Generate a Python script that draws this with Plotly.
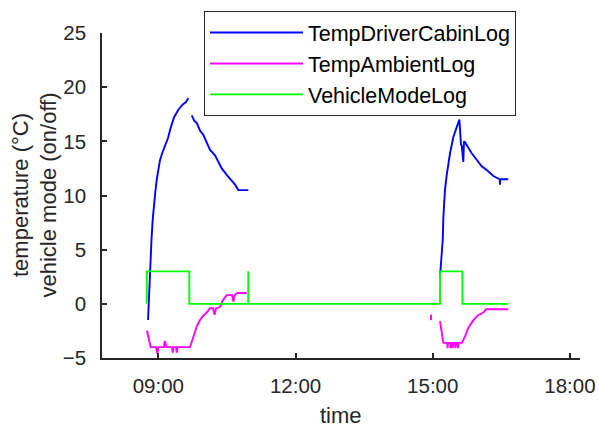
import plotly.graph_objects as go

DAY = "2017-03-01 "

# ---- data ----
cabin_time = [
    "08:46:30", "08:47:30", "08:48:30", "08:49:30", "08:51:00", "08:52:30", "08:54:00", "08:56:00",
    "08:58:00", "08:59:40", "09:02:00", "09:05:00", "09:08:00", "09:12:40", "09:16:00", "09:20:30",
    "09:26:00", "09:32:00", "09:36:00", "09:39:30",
    None,
    "09:43:50", "09:47:00", "09:50:20", "09:54:40", "09:59:00", "10:03:30", "10:07:50", "10:14:20",
    "10:18:40", "10:23:10", "10:29:40", "10:36:20", "10:40:40", "10:44:55", "10:58:05",
    None,
    "15:09:30", "15:12:00", "15:13:05", "15:13:55", "15:16:00", "15:18:20", "15:22:40", "15:27:00",
    "15:31:25", "15:34:55", "15:37:05", "15:38:00", "15:40:05", "15:41:00", "15:42:25", "15:46:45",
    "15:51:05", "15:57:40", "16:04:10", "16:11:35", "16:19:30", "16:27:50", "16:28:10", "16:28:30",
    "16:39:05",
]
cabin_temp = [
    -1.5, 0.5, 2.5, 4.0, 5.9, 7.7, 9.0, 10.3,
    11.5, 12.1, 13.2, 13.9, 14.5, 15.3, 16.2, 17.2,
    17.9, 18.4, 18.6, 19.0,
    None,
    17.4, 16.9, 16.7, 16.0, 15.6, 14.8, 14.2, 13.7,
    13.1, 12.5, 11.9, 11.4, 11.0, 10.5, 10.5,
    None,
    2.5, 4.5, 5.9, 8.0, 10.5, 11.9, 13.9, 15.4,
    16.3, 17.0, 14.7, 14.6, 13.1, 15.0, 14.9, 14.4,
    13.9, 13.3, 12.7, 12.3, 11.8, 11.5, 11.0, 11.5,
    11.5,
]

ambient_time = [
    "08:44:48", "08:45:30", "08:46:30", "08:47:06", "08:48:00", "08:50:00", "08:57:00", "08:58:40",
    "09:00:16", "09:07:30", "09:08:10", "09:08:50", "09:09:40", "09:10:45", "09:18:00", "09:18:53",
    "09:19:56", "09:23:13", "09:24:08", "09:25:11", "09:41:35", "09:45:55", "09:50:20", "09:54:40",
    "09:59:00", "10:03:30", "10:07:50", "10:11:45", "10:13:45", "10:15:45", "10:21:00", "10:24:30",
    "10:29:40", "10:36:40", "10:38:25", "10:40:00", "10:43:40", "10:56:00",
    None,
    "14:57:30", "14:57:50",
    None,
    "15:09:30", "15:13:05", "15:13:55", "15:18:45", "15:19:25", "15:20:00", "15:22:40", "15:23:20",
    "15:24:00", "15:25:40", "15:26:20", "15:27:00", "15:29:15", "15:29:55", "15:30:35", "15:32:30",
    "15:33:10", "15:33:50", "15:38:05", "15:42:25", "15:46:45", "15:52:25", "15:58:30", "16:06:20",
    "16:09:55", "16:39:05",
]
ambient_temp = [
    -2.6, -2.5, -3.0, -3.0, -3.4, -4.0, -4.0, -4.6,
    -4.0, -4.0, -3.5, -3.5, -3.7, -4.0, -4.0, -4.5,
    -4.0, -4.0, -4.5, -4.0, -4.0, -3.0, -2.1, -1.5,
    -1.1, -0.8, -0.4, -0.4, -1.0, -0.4, -0.3, 0.3,
    0.8, 0.8, 0.2, 0.8, 1.0, 1.0,
    None,
    -1.0, -1.5,
    None,
    -1.6, -3.0, -3.6, -3.6, -4.1, -3.6, -3.6, -4.1,
    -3.6, -3.6, -4.1, -3.6, -3.6, -4.1, -3.6, -3.6,
    -4.1, -3.6, -3.6, -3.0, -2.2, -1.6, -1.1, -0.8,
    -0.5, -0.5,
]

mode_time = ["08:44:50", "08:44:55", "09:40:40", "09:40:45", "10:57:55", "10:58:00", "10:58:05",
             "15:09:30", "15:09:35", "15:38:50", "15:38:55", "16:39:05"]
mode_value = [0, 3, 3, 0, 0, 3, 0, 0, 3, 3, 0, 0]

series_names = ["TempDriverCabinLog", "TempAmbientLog", "VehicleModeLog"]
series_colors = ["#0000FF", "#FF00FF", "#00FF00"]

x_tick_times = ["09:00", "12:00", "15:00", "18:00"]
x_range = ["07:46:05", "18:13:10"]
y_ticks = [-5, 0, 5, 10, 15, 20, 25]


def stamp(lst):
    return [None if t is None else DAY + t for t in lst]


FONT = "Liberation Sans, Arial, Helvetica, sans-serif"
AX = "#262626"

fig = go.Figure()
for name, color, tx, vy in zip(series_names, series_colors,
                               [cabin_time, ambient_time, mode_time],
                               [cabin_temp, ambient_temp, mode_value]):
    fig.add_trace(go.Scatter(x=stamp(tx), y=vy, mode="lines", name=name,
                             line=dict(color=color, width=1.9), connectgaps=False))

fig.update_layout(
    width=599, height=428,
    margin=dict(l=102, r=19, t=33, b=70, autoexpand=False),
    paper_bgcolor="white", plot_bgcolor="white",
    font=dict(family=FONT, color=AX),
    showlegend=True,
    legend=dict(x=(204 - 102) / 478, y=(358 - 11) / 325, xanchor="left", yanchor="top",
                bgcolor="white", bordercolor=AX, borderwidth=1,
                font=dict(size=21.5, color="black", family=FONT),
                itemwidth=93),
    xaxis=dict(type="date", range=stamp(x_range),
               tickvals=stamp([t + ":00" for t in x_tick_times]), ticktext=x_tick_times,
               showline=True, linecolor=AX, linewidth=1.5, mirror=False,
               ticks="inside", ticklen=5, tickcolor=AX, tickwidth=1.5,
               showgrid=False, zeroline=False,
               tickfont=dict(size=20.5, color=AX), ticklabelstandoff=9),
    yaxis=dict(range=[-5, 25], tickvals=y_ticks,
               showline=True, linecolor=AX, linewidth=1.5, mirror=False,
               ticks="inside", ticklen=5, tickcolor=AX, tickwidth=1.5,
               showgrid=False, zeroline=False,
               tickfont=dict(size=20.5, color=AX), ticklabelstandoff=10),
    annotations=[
        dict(text="temperature (°C)<br>vehicle mode (on/off)", textangle=-90,
             xref="paper", yref="paper", x=(34 - 102) / 478, y=0.5,
             xanchor="center", yanchor="middle", showarrow=False,
             font=dict(size=22, color=AX)),
        dict(text="time", xref="paper", yref="paper", x=0.5, y=(358 - 415) / 325,
             xanchor="center", yanchor="middle", showarrow=False,
             font=dict(size=22, color=AX)),
    ],
)

fig.write_html("out.html", config={"displayModeBar": False},
               post_script="document.body.style.margin='0';document.body.style.overflow='hidden';")
